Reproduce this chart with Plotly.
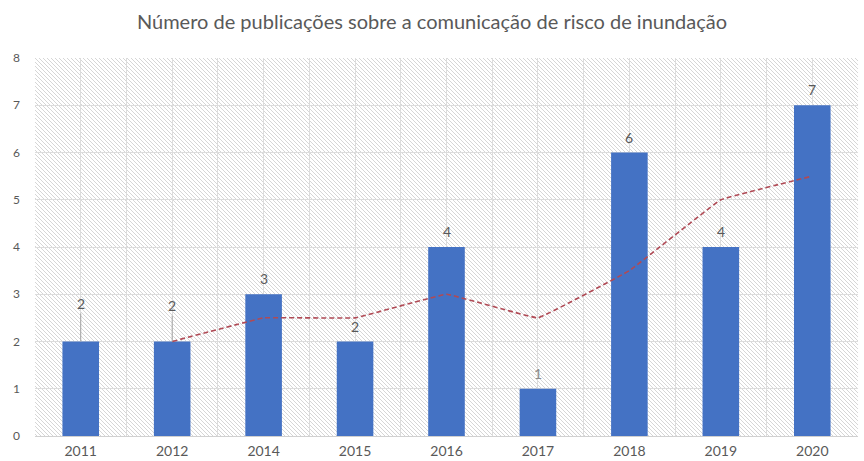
import urllib.parse
import plotly.graph_objects as go

# Publications per year
years = ["2011", "2012", "2014", "2015", "2016", "2017", "2018", "2019", "2020"]
publications = [2, 2, 3, 2, 4, 1, 6, 4, 7]
# 2-period moving average trend line (no value for the first year)
trend = [None, 2, 2.5, 2.5, 3, 2.5, 3.5, 5, 5.5]
y_ticks = [0, 1, 2, 3, 4, 5, 6, 7, 8]

TEXT = "#595959"
GRID = "#dcdcdc"
BAR = "#4472C4"
FONT = "Lato"

W, H = 864, 461
M = dict(l=35, r=6, t=58, b=25)
PW, PH = W - M["l"] - M["r"], H - M["t"] - M["b"]

# diagonal hatch texture for the plot area
hatch_svg = (
    f'<svg xmlns="http://www.w3.org/2000/svg" width="{PW}" height="{PH}">'
    '<defs><pattern id="h" width="4" height="4" patternUnits="userSpaceOnUse">'
    '<rect width="4" height="4" fill="#ffffff"/>'
    '<path d="M-1,-1 L5,5 M3,-1 L5,1 M-1,3 L1,5" stroke="#d6d6d6" stroke-width="1"/>'
    '</pattern></defs>'
    f'<rect width="{PW}" height="{PH}" fill="url(#h)"/></svg>'
)
hatch_uri = "data:image/svg+xml;charset=utf-8," + urllib.parse.quote(hatch_svg)

xs = list(range(len(years)))

fig = go.Figure()
fig.add_trace(go.Bar(
    x=xs, y=publications, width=0.4,
    marker=dict(color=BAR, line=dict(width=0)),
    hoverinfo="skip",
))
fig.add_trace(go.Scatter(
    x=xs, y=trend, mode="lines",
    line=dict(color="#B04A55", width=1.6, dash="5px,3px", shape="spline", smoothing=0.15),
    hoverinfo="skip",
))

# value labels; the first two are lifted with leader lines
leader_offsets = [-38, -36]
annotations = []
for i, v in enumerate(publications):
    if i < len(leader_offsets):
        annotations.append(dict(
            x=xs[i], y=v, xref="x", yref="y", text=str(v),
            showarrow=True, arrowhead=0, arrowwidth=1, arrowcolor="#a6a6a6",
            ax=0, ay=leader_offsets[i], standoff=0,
            font=dict(family=FONT, size=14, color=TEXT),
        ))
    else:
        annotations.append(dict(
            x=xs[i], y=v, xref="x", yref="y", text=str(v),
            showarrow=False, yanchor="bottom", yshift=5,
            font=dict(family=FONT, size=14, color="#8c8c8c" if v == 1 else TEXT),
        ))

fig.update_layout(
    width=W, height=H, margin=M,
    paper_bgcolor="white", plot_bgcolor="rgba(0,0,0,0)",
    showlegend=False,
    title=dict(
        text="Número de publicações sobre a comunicação de risco de inundação",
        x=0.5, xanchor="center", y=0.952, yanchor="middle",
        font=dict(family=FONT, size=20, color=TEXT),
    ),
    font=dict(family=FONT, color=TEXT),
    images=[dict(
        source=hatch_uri, xref="x domain", yref="y domain",
        x=0, y=1, sizex=1, sizey=1, xanchor="left", yanchor="top",
        sizing="stretch", layer="below",
    )],
    annotations=annotations,
)
fig.update_xaxes(
    range=[-0.5, len(years) - 0.5],
    tickvals=xs, ticktext=years, ticks="",
    tickfont=dict(family=FONT, size=14, color=TEXT),
    ticklabelstandoff=2, automargin=False,
    showgrid=True, gridcolor=GRID, gridwidth=1,
    minor=dict(tickvals=[i - 0.5 for i in range(len(years) + 1)], showgrid=True,
               gridcolor=GRID, gridwidth=1),
    showline=True, linecolor="#d0d0d0", linewidth=1,
    zeroline=False, fixedrange=True,
)
fig.update_yaxes(
    range=[0, 8], tickvals=y_ticks, ticks="",
    tickfont=dict(family=FONT, size=12, color=TEXT),
    showgrid=True, gridcolor=GRID, gridwidth=1,
    zeroline=False, ticklabelstandoff=14, automargin=False, fixedrange=True,
)

fig.write_html("out.html")
